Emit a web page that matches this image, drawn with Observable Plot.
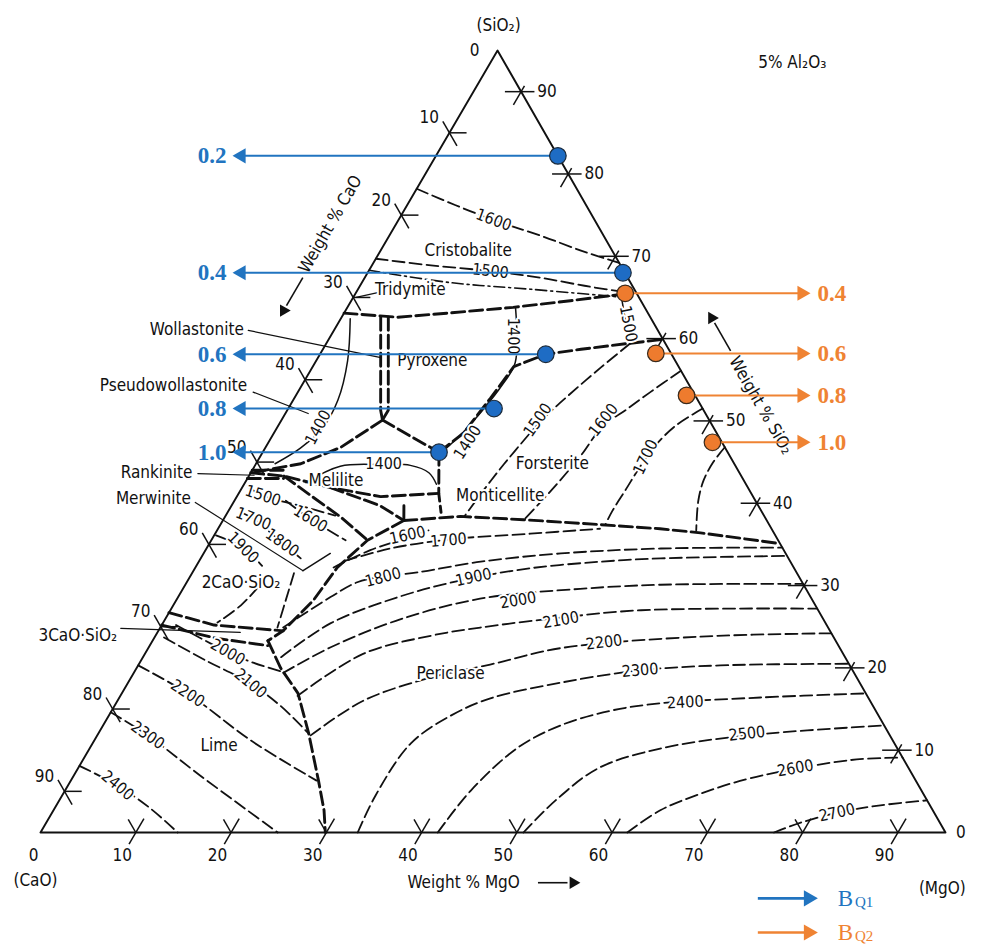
<!DOCTYPE html>
<html><head><meta charset="utf-8">
<script src="https://cdn.jsdelivr.net/npm/d3@7"></script>
<script src="https://cdn.jsdelivr.net/npm/@observablehq/plot@0.6"></script>
<style>
html,body{margin:0;padding:0;background:#fff;overflow:hidden;}
svg text{font-stretch:condensed;}
</style></head><body><div id="chart"></div>
<script>
// Compositions in wt% as [MgO, SiO2]; CaO = 95 - MgO - SiO2 (section at 5% Al2O3)
const cornerTotal = 95;
const tickValues = [10,20,30,40,50,60,70,80,90];

const bq1Text = ["0.2","0.4","0.6","0.8","1.0"];
const bq1MgO  = [12.8,26.8,23.7,21.6,18.5];
const bq1SiO2 = [82.2,68.0,58.1,51.5,46.2];
const bq2Text = ["0.4","0.6","0.8","1.0"];
const bq2MgO  = [28.3,35.2,41.0,46.6];
const bq2SiO2 = [65.5,58.2,53.1,47.4];

const fieldNames = ["Cristobalite","Tridymite","Pyroxene","Forsterite","Monticellite","Melilite","2CaO·SiO₂","Periclase","Lime"];
const fieldMgO   = [9.2,5.5,12.2,31.1,27.6,9.4,5.7,33.3,13.4];
const fieldSiO2  = [70.7,66.0,57.3,44.8,40.9,42.8,30.4,19.3,10.6];

const noteNames = ["Wollastonite","Pseudowollastonite","Rankinite","Merwinite","3CaO·SiO₂"];
const noteMgO   = [-9.2,-5.4,-5.8,-4.4,-3.7];
const noteSiO2  = [61.1,54.3,43.7,40.6,23.9];

const isoText = ["1600","1500","1400","1500","1400","1500","1600","1700","1400","1400","1500","1600","1700","1800","1900","1600","1700","1800","1900","2000","2100","2200","2300","2400","2500","2600","2700","2000","2100","2200","2300","2400"];
const isoMgO  = [10.0,12.8,19.2,30.5,20.9,26.9,33.8,40.5,13.4,4.3,2.7,9.1,3.1,7.6,3.8,20.3,24.9,20.3,29.8,35.9,41.6,47.5,53.0,59.7,68.1,75.3,82.4,8.6,12.9,6.9,5.3,5.2];
const isoSiO2 = [74.4,68.2,60.3,61.8,47.4,50.1,50.1,45.6,44.8,49.2,40.9,38.1,38.1,35.2,34.6,36.1,35.5,31.0,31.0,28.2,25.8,23.1,19.7,15.8,12.0,7.8,2.4,21.9,18.1,16.9,11.8,5.7];
const isoAngle = [20,6,90,79,-57,-55,-52,-65,0,-62,18,32,22,35,45,-12,-5,-15,-12,-10,-10,-7,-5,-3,-6,-10,-12,30,40,33,35,40];

// phase boundaries (bold dashed)
const bTridymite = [[0,63.1],[5.9,62.6],[10.9,63.1],[17.4,63.8],[23.0,64.6],[28.1,65.4]];
const bWollA = [[4.1,62.6],[9.8,51.3],[10.6,50.1]];
const bWollB = [[4.9,62.6],[10.6,51.3],[10.6,50.1]];
const bPseudowoll = [[10.6,50.1],[7.9,46.8],[4.7,44.8],[0,43.7]];
const bWollMelilite = [[10.6,50.1],[14.6,48.1],[18.5,46.2]];
const bPyroxForst = [[18.5,46.2],[19.9,48.5],[20.6,52.8],[21.1,56.6],[23.7,58.1],[27.1,58.7],[31.6,59.4],[35.1,59.9]];
const bMeliliteLow = [[0,43.7],[3.7,43.3],[9.3,41.9],[15.1,40.8],[21.0,41.2]];
const bMelMont = [[18.5,46.2],[21.0,41.2],[22.4,38.9]];
const bMerwinite = [[3.7,43.3],[8.1,40.7],[12.2,38.3],[16.4,35.5]];
const bMonticellite = [[9.3,41.9],[15.6,39.7],[19.0,37.9]];
const bMontiStep = [[18.1,39.7],[19.0,37.9]];
const bForstPeric = [[19.0,37.9],[24.7,38.4],[31.5,38.0],[39.9,37.4],[46.4,36.9],[50.9,36.4],[59.9,35.1]];
const bPericC2S = [[19.0,37.9],[16.4,35.5],[14.9,32.2],[14.4,28.2],[13.1,24.5],[12.1,23.3]];
const bLimePeric = [[12.1,23.3],[15.1,20.0],[18.5,16.9],[22.1,12.0],[26.0,6.3],[28.4,2.7],[29.9,0]];
const bC2SC3S = [[0,26.7],[5.5,25.2],[9.9,24.8],[13.1,24.5]];
const bC3SLime = [[0,25.2],[6.5,23.6],[12.4,22.7]];
const bRankinite1 = [[0,44.0],[3.3,44.0]];
const bRankinite2 = [[0,43.0],[3.8,43.0]];

// isotherms (dashed)
const t1600Crist = [[0,78.2],[5.1,76.2],[10.0,74.4],[15.9,72.5],[21.6,70.5],[25.8,69.2]];
const t1500Crist = [[0,69.7],[6.2,68.9],[12.8,68.2],[18.4,67.4],[24.2,66.3],[28.6,65.6]];
const tInversion = [[0,68.3],[9.3,66.8],[18.1,66.0],[28.5,65.0]];
const t1500Forst = [[31.9,59.4],[30.3,56.5],[28.7,53.3],[27.4,50.3],[26.4,46.4],[25.7,42.8],[25.1,38.4]];
const t1600Forst = [[38.9,56.1],[37.0,53.5],[35.5,51.3],[34.1,49.4],[33.6,45.8],[32.8,42.2],[31.6,38.1]];
const t1700Forst = [[43.5,51.5],[41.7,49.4],[40.8,47.0],[40.5,44.6],[40.4,41.6],[40.3,39.1],[40.4,37.4]];
const t1800Forst = [[48.2,46.8],[47.9,45.0],[48.0,42.8],[48.7,40.3],[50.3,36.7]];
const t1600Peric = [[14.5,32.2],[17.3,34.3],[20.4,35.8],[22.2,36.7]];
const t1700Peric = [[15.3,33.0],[19.3,34.5],[24.9,35.6],[33.1,36.3],[40.1,36.9]];
const t1800Peric = [[12.9,24.9],[16.0,28.6],[17.9,30.4],[20.2,31.1],[23.6,31.6],[29.6,32.9],[37.5,33.9],[47.7,34.5],[60.4,34.6]];
const t1900Peric = [[14.5,21.3],[17.6,25.4],[23.1,28.6],[28.9,30.7],[35.2,32.1],[42.2,32.9],[48.3,33.3],[61.4,33.6]];
const t2000Peric = [[15.7,19.4],[19.1,22.5],[24.5,25.8],[31.8,28.4],[41.7,29.6],[49.9,30.1],[64.8,30.2]];
const t2100Peric = [[18.6,16.6],[22.9,21.7],[28.9,23.9],[33.6,24.9],[41.4,26.1],[49.4,27.0],[67.8,27.2]];
const t2200Peric = [[22.4,11.8],[25.8,16.0],[31.4,18.8],[36.9,20.4],[43.3,22.4],[57.3,23.8],[70.8,24.2]];
const t2300Peric = [[33.3,0],[32.9,4.5],[33.4,10.8],[35.9,14.2],[39.0,16.3],[45.4,18.2],[53.0,19.7],[61.1,20.3],[74.5,20.5]];
const t2400Peric = [[41.7,0],[42.6,5.1],[44.9,10.3],[48.0,13.0],[52.4,14.8],[57.2,15.7],[67.3,16.4],[78.1,16.9]];
const t2500Peric = [[50.7,0],[52.1,3.9],[54.6,7.8],[59.9,10.2],[68.3,11.8],[82.0,13.0]];
const t2600Peric = [[61.6,0],[63.7,2.7],[66.9,4.7],[71.2,6.6],[80.6,8.8],[85.9,9.1]];
const t2700Peric = [[77.0,0],[79.2,1.2],[82.4,2.4],[86.5,3.3],[91.1,3.9]];
const t2000Lime = [[1.5,25.2],[4.9,23.6],[8.6,21.9],[12.0,20.6],[15.6,19.5]];
const t2100Lime = [[1.0,23.7],[6.8,20.9],[12.9,18.1],[17.4,15.4],[22.1,12.0]];
const t2200Lime = [[0,20.3],[6.9,16.9],[16.4,11.2],[25.8,6.3]];
const t2300Lime = [[0,14.6],[5.3,11.8],[13.3,6.9],[24.9,0]];
const t2400Lime = [[0,8.1],[5.2,5.7],[10.1,2.9],[14.4,0]];
const t1500C2S = [[0.6,42.0],[2.7,40.9],[7.2,39.7],[11.5,38.5]];
const t1600C2S = [[5.4,40.3],[9.1,38.1],[14.1,35.5]];
const t1700C2S = [[1.4,38.9],[3.1,38.1],[7.6,35.2],[10.5,33.3]];
const t1900C2S = [[0.2,36.1],[3.8,34.6],[6.9,32.4]];
const tC2Sa = [[7.8,29.8],[7.1,27.6],[5.7,25.5]];
const tC2Sb = [[10.7,31.5],[11.5,28.2],[12.3,24.9]];

// solid liquidus lines
const s1400Pyrox = [[17.7,63.7],[21.0,57.1],[21.0,54.3],[20.5,51.3],[19.8,48.6],[18.9,46.4]];
const s1500Pyrox = [[28.1,65.1],[30.0,62.2],[31.9,59.4]];
const s1400Melilite = [[6.4,42.5],[9.0,44.5],[13.3,44.7],[16.3,44.6],[18.7,43.7],[20.2,42.3]];
const s1400Pseudo = [[1.0,62.4],[3.3,57.3],[4.7,52.5],[4.8,49.1],[3.7,46.7],[2.0,44.8]];
const sMerwinite = [[11.5,31.8],[13.3,33.9]];

// leader lines
const leadTridymite = [[0.3,65.0],[3.0,65.8]];
const leadWollastonite = [[-9.0,61.0],[6.6,57.7]];
const leadPseudowoll = [[-4.7,53.5],[2.4,50.9]];
const leadRankinite = [[-5.5,43.6],[0.5,43.4]];
const leadMerwinite = [[-4.0,40.1],[11.5,31.8]];
const leadC3S = [[-4.1,24.8],[8.7,24.3]];

// ---------- projection & helpers ----------
const K = 0.505; // horizontal offset of the SiO2 corner per % SiO2 (scan geometry)
const P = (m, s) => [m + K * s, s];
const toRows = curves => curves.flatMap((pts, id) => pts.map(([m, s]) => { const [x, y] = P(m, s); return {id, x, y}; }));
const seg = (a, b) => { const [x1, y1] = P(...a), [x2, y2] = P(...b); return {x1, y1, x2, y2}; };
const INK = "#111";
const FONT = "'Liberation Sans Narrow','DejaVu Sans Condensed','Arial Narrow','DejaVu Sans',sans-serif";
const SERIF = "'Liberation Serif','Times New Roman',serif";
const BLUE = "#2174c0", BLUE_DOT = "#1e6cc4", ORANGE = "#ef8333", ORANGE_DOT = "#ee7b2e";

const boundaries = [bTridymite,bWollA,bWollB,bPseudowoll,bWollMelilite,bPyroxForst,bMeliliteLow,bMelMont,bMerwinite,bMonticellite,bMontiStep,bForstPeric,bPericC2S,bLimePeric,bC2SC3S,bC3SLime,bRankinite1,bRankinite2];
const isotherms = [t1600Crist,t1500Crist,t1500Forst,t1600Forst,t1700Forst,t1800Forst,t1600Peric,t1700Peric,t1800Peric,t1900Peric,t2000Peric,t2100Peric,t2200Peric,t2300Peric,t2400Peric,t2500Peric,t2600Peric,t2700Peric,t2000Lime,t2100Lime,t2200Lime,t2300Lime,t2400Lime,t1500C2S,t1600C2S,t1700C2S,t1900C2S,tC2Sa,tC2Sb];
const solids = [s1400Pyrox,s1500Pyrox,s1400Melilite,s1400Pseudo,sMerwinite];
const leaders = [leadTridymite,leadWollastonite,leadPseudowoll,leadRankinite,leadMerwinite,leadC3S];
const frame = toRows([[[0,0],[cornerTotal,0],[0,cornerTotal],[0,0]]]);

const tickSegs = tickValues.flatMap(v => {
  const s = cornerTotal - v;
  return [
    seg([v,-1.4],[v,1.7]), seg([v,0],[v-1.6,1.6]),          // MgO (bottom)
    seg([-1.4,s+1.4],[1.6,s-1.6]), seg([0,s],[1.8,s]),      // CaO (left)
    seg([s-1.7,v],[s+1.4,v]), seg([s,v+0.7],[s,v-1.6])      // SiO2 (right)
  ];
});
const pt = (t, m, s, extra = {}) => { const [x, y] = P(m, s); return {t, x, y, ...extra}; };
const tickBottom = [pt("0",0.7,-2.8), ...tickValues.map(v => pt(String(v), v, -2.8))];
const tickLeft = tickValues.map(v => pt(String(v), -2.0, cornerTotal - v + 1.8));
const tickRight = tickValues.map(v => pt(String(v), cornerTotal - v + 1.7, v));
const cornerText = [pt("0",-2.4,95), pt("0",96.6,0), pt("(SiO₂)",-1.4,98), pt("(CaO)",2.4,-5.8), pt("(MgO)",98.1,-6.8), pt("5% Al₂O₃",31.7,93.5)];

const fields = fieldNames.map((t,i) => pt(t, fieldMgO[i], fieldSiO2[i]));
const notes = noteNames.map((t,i) => pt(t, noteMgO[i], noteSiO2[i]));
const isoLabels = isoText.map((t,i) => pt(t, isoMgO[i], isoSiO2[i], {r: isoAngle[i]}));

// B_Q markers and arrows
const leftTipX = 20.16, rightTipX = 80.83;
const bq1 = bq1Text.map((t,i) => pt(t, bq1MgO[i], bq1SiO2[i]));
const bq2 = bq2Text.map((t,i) => pt(t, bq2MgO[i], bq2SiO2[i]));
const legendY = [-8.0, -12.15];

const axisTitles = [
  {...pt("Weight % CaO", -6.9, 73.9), r: -60},
  {...pt("Weight % SiO₂", 49.4, 51.9), r: 60},
];
const axisArrows = [seg([-6.5,67.4],[-6.5,64.0]), seg([42.9,58.5],[39.5,61.9]), seg([55.3,-6.1],[58.4,-6.1])];
const axisHeads = [{...pt("",-6.5,63.4), r: 210}, {...pt("",38.9,62.5), r: -30}, {...pt("",59.0,-6.1), r: 90}];

const lineOpts = {x: "x", y: "y", z: "id", stroke: INK, fill: "none"};
const halo = {stroke: "white", strokeWidth: 4, paintOrder: "stroke"};

const chart = Plot.plot({
  width: 985, height: 950, margin: 0,
  x: {domain: [0, cornerTotal], range: [40, 945], axis: null},
  y: {domain: [0, cornerTotal], range: [832, 50], axis: null},
  style: {background: "#fff", overflow: "visible"},
  marks: [
    Plot.line(toRows(isotherms), {...lineOpts, strokeWidth: 1.8, strokeDasharray: "12,5", curve: "catmull-rom"}),
    Plot.line(toRows([tInversion]), {...lineOpts, strokeWidth: 1.6, strokeDasharray: "11,4,2,4", curve: "catmull-rom"}),
    Plot.line(toRows(solids), {...lineOpts, strokeWidth: 1.5, curve: "catmull-rom"}),
    Plot.line(toRows(leaders), {...lineOpts, strokeWidth: 1.2}),
    Plot.line(toRows(boundaries), {...lineOpts, strokeWidth: 2.9, strokeDasharray: "13,5"}),
    Plot.line(frame, {...lineOpts, strokeWidth: 1.9}),
    Plot.link(tickSegs, {x1: "x1", y1: "y1", x2: "x2", y2: "y2", stroke: INK, strokeWidth: 1.5}),
    Plot.text(isoLabels, {x: "x", y: "y", text: "t", rotate: "r", fontSize: 16, fontFamily: FONT, fill: INK, ...halo}),
    Plot.text(fields, {x: "x", y: "y", text: "t", fontSize: 17, fontFamily: FONT, fill: INK, ...halo}),
    Plot.text(notes, {x: "x", y: "y", text: "t", textAnchor: "end", dx: -3, fontSize: 17, fontFamily: FONT, fill: INK}),
    Plot.text(tickBottom, {x: "x", y: "y", text: "t", fontSize: 17, fontFamily: FONT, fill: INK}),
    Plot.text(tickLeft, {x: "x", y: "y", text: "t", textAnchor: "end", fontSize: 17, fontFamily: FONT, fill: INK}),
    Plot.text(tickRight, {x: "x", y: "y", text: "t", textAnchor: "start", fontSize: 17, fontFamily: FONT, fill: INK}),
    Plot.text(cornerText, {x: "x", y: "y", text: "t", fontSize: 17, fontFamily: FONT, fill: INK}),
    Plot.text([pt("Weight % MgO", 41.6, -6.1)], {x: "x", y: "y", text: "t", textAnchor: "start", fontSize: 17, fontFamily: FONT, fill: INK}),
    Plot.text(axisTitles, {x: "x", y: "y", text: "t", rotate: "r", fontSize: 17, fontFamily: FONT, fill: INK}),
    Plot.link(axisArrows, {x1: "x1", y1: "y1", x2: "x2", y2: "y2", stroke: INK, strokeWidth: 1.6}),
    Plot.dot(axisHeads, {x: "x", y: "y", symbol: "triangle", r: 4.6, rotate: "r", fill: INK, stroke: "none"}),
    // B_Q1 (left, blue)
    Plot.link(bq1, {x1: "x", y1: "y", x2: () => leftTipX + 1.0, y2: "y", stroke: BLUE, strokeWidth: 2}),
    Plot.dot(bq1, {x: () => leftTipX, y: "y", symbol: "triangle", r: 5.6, rotate: -90, dx: 8.7, fill: BLUE, stroke: "none"}),
    Plot.text(bq1, {x: () => leftTipX, y: "y", text: "t", textAnchor: "end", dx: -6, fontSize: 23, fontWeight: "bold", fontFamily: SERIF, fill: BLUE}),
    // B_Q2 (right, orange)
    Plot.link(bq2, {x1: "x", y1: "y", x2: () => rightTipX - 1.0, y2: "y", stroke: ORANGE, strokeWidth: 2}),
    Plot.dot(bq2, {x: () => rightTipX, y: "y", symbol: "triangle", r: 5.6, rotate: 90, dx: -8.7, fill: ORANGE, stroke: "none"}),
    Plot.text(bq2, {x: () => rightTipX, y: "y", text: "t", textAnchor: "start", dx: 7, fontSize: 23, fontWeight: "bold", fontFamily: SERIF, fill: ORANGE}),
    Plot.dot(bq1, {x: "x", y: "y", r: 8.3, fill: BLUE_DOT, stroke: "#1b2a3a", strokeWidth: 1.2}),
    Plot.dot(bq2, {x: "x", y: "y", r: 8.3, fill: ORANGE_DOT, stroke: "#3a2a1b", strokeWidth: 1.2}),
    // legend
    Plot.link(legendY, {x1: () => 75.3, x2: () => 80.5, y1: d => d, y2: d => d, stroke: (d, i) => i ? ORANGE : BLUE, strokeWidth: 2.6}),
    Plot.dot(legendY, {x: () => 81.6, y: d => d, symbol: "triangle", r: 6, rotate: 90, dx: -9.3, fill: (d, i) => i ? ORANGE : BLUE, stroke: "none"}),
    Plot.text(legendY, {x: () => 83.7, y: d => d, text: () => "B", textAnchor: "start", fontSize: 23, fontFamily: SERIF, fill: (d, i) => i ? ORANGE : BLUE}),
    Plot.text(legendY, {x: () => 85.5, y: d => d, dy: 4, text: (d, i) => i ? "Q2" : "Q1", textAnchor: "start", fontSize: 15, fontFamily: SERIF, fill: (d, i) => i ? ORANGE : BLUE})
  ]
});
document.getElementById("chart").append(chart);
</script></body></html>
